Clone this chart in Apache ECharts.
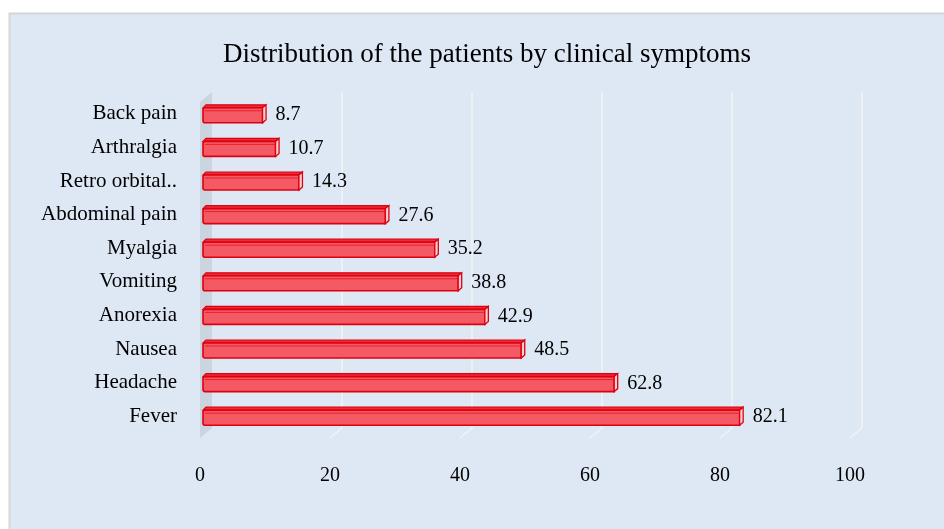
<!DOCTYPE html>
<html>
<head>
<meta charset="utf-8">
<script src="https://cdn.jsdelivr.net/npm/echarts@6/dist/echarts.min.js"></script>
<style>
  html, body { margin: 0; padding: 0; background: #ffffff; }
  #chart { width: 944px; height: 529px; }
</style>
</head>
<body>
<div id="chart"></div>
<script>
// top to bottom, as shown
const symptoms = ['Back pain', 'Arthralgia', 'Retro orbital..', 'Abdominal pain', 'Myalgia',
                  'Vomiting', 'Anorexia', 'Nausea', 'Headache', 'Fever'];
const percents = [8.7, 10.7, 14.3, 27.6, 35.2, 38.8, 42.9, 48.5, 62.8, 82.1];
const xTicks = [0, 20, 40, 60, 80, 100];

const serif = "'Liberation Serif', 'Times New Roman', serif";
const chart = echarts.init(document.getElementById('chart'));

// back wall gridlines + floor diagonals + left wall
const renderGrid = (params, api) => {
    const cs = params.coordSys;
    const x = api.coord([api.value(0), 0])[0];
    const top = cs.y - 5, back = cs.y + cs.height - 5, front = cs.y + cs.height + 5;
    if (api.value(0) === 0) {
        return {
            type: 'polygon',
            shape: { points: [[x, top + 10], [x + 12, top], [x + 12, back], [x, front]] },
            style: { fill: '#cbd5df' }
        };
    }
    return {
        type: 'polyline',
        shape: { points: [[x + 12, top], [x + 12, back], [x, front]] },
        style: { stroke: '#f3f3f3', lineWidth: 1.5, fill: null }
    };
};

// 3d-ish bar: front face, top face, end cap, value label
const renderBar = (params, api) => {
    const v = api.value(0);
    const p = api.coord([v, api.value(1)]);
    const x0 = api.coord([0, api.value(1)])[0] + 3;
    const x1 = p[0] + 6;
    const yc = p[1];
    return {
        type: 'group',
        children: [
            {
                type: 'polygon',
                shape: { points: [[x0, yc - 6], [x0 + 3, yc - 9], [x1 + 3, yc - 9], [x1, yc - 6]] },
                style: { fill: '#ee2a34', stroke: '#dc0010', lineWidth: 1.2 }
            },
            {
                type: 'rect',
                shape: { x: x0, y: yc - 6, width: x1 - x0, height: 15, r: [2, 0, 0, 2] },
                style: { fill: '#f45a64', stroke: '#dc0010', lineWidth: 1.6 }
            },
            {
                type: 'line',
                shape: { x1: x0 + 2, y1: yc - 3, x2: x1 - 1, y2: yc - 3 },
                style: { stroke: '#ec1e28', lineWidth: 1 }
            },
            {
                type: 'polygon',
                shape: { points: [[x1, yc - 6], [x1 + 3.5, yc - 9], [x1 + 3.5, yc + 6], [x1, yc + 9]] },
                style: { fill: '#fbd0d2', stroke: '#dc0010', lineWidth: 1.3 }
            },
            {
                type: 'text',
                style: {
                    text: String(v), x: p[0] + 19, y: yc + 1,
                    textAlign: 'left', textVerticalAlign: 'middle',
                    font: '20px ' + serif, fill: '#000000'
                }
            }
        ]
    };
};

const option = {
    animation: false,
    graphic: [{
        type: 'rect', z: -10, silent: true,
        shape: { x: 9.5, y: 13.5, width: 960, height: 540 },
        style: { fill: '#dde8f4', stroke: '#d6d6d6', lineWidth: 2 }
    }],
    title: {
        text: 'Distribution of the patients by clinical symptoms',
        left: 482, top: 36, textAlign: 'center',
        textStyle: { fontFamily: serif, fontSize: 27, fontWeight: 'normal', color: '#000000' }
    },
    grid: { left: 200, right: 94, top: 97, bottom: 96, containLabel: false },
    xAxis: {
        type: 'value', min: 0, max: 100, interval: 20,
        axisLine: { show: false }, axisTick: { show: false }, splitLine: { show: false },
        axisLabel: { margin: 33, fontFamily: serif, fontSize: 20, color: '#000000' }
    },
    yAxis: {
        type: 'category', inverse: true, data: symptoms,
        axisLine: { show: false }, axisTick: { show: false },
        axisLabel: { margin: 23, fontFamily: serif, fontSize: 21, color: '#000000' }
    },
    series: [
        {
            type: 'custom', z: 1, silent: true,
            data: xTicks.map(t => [t, 0]),
            renderItem: renderGrid
        },
        {
            type: 'custom', z: 5, silent: true,
            data: percents.map((v, i) => [v, i]),
            renderItem: renderBar
        }
    ]
};

chart.setOption(option);
window.onresize = () => chart.resize();
</script>
</body>
</html>
